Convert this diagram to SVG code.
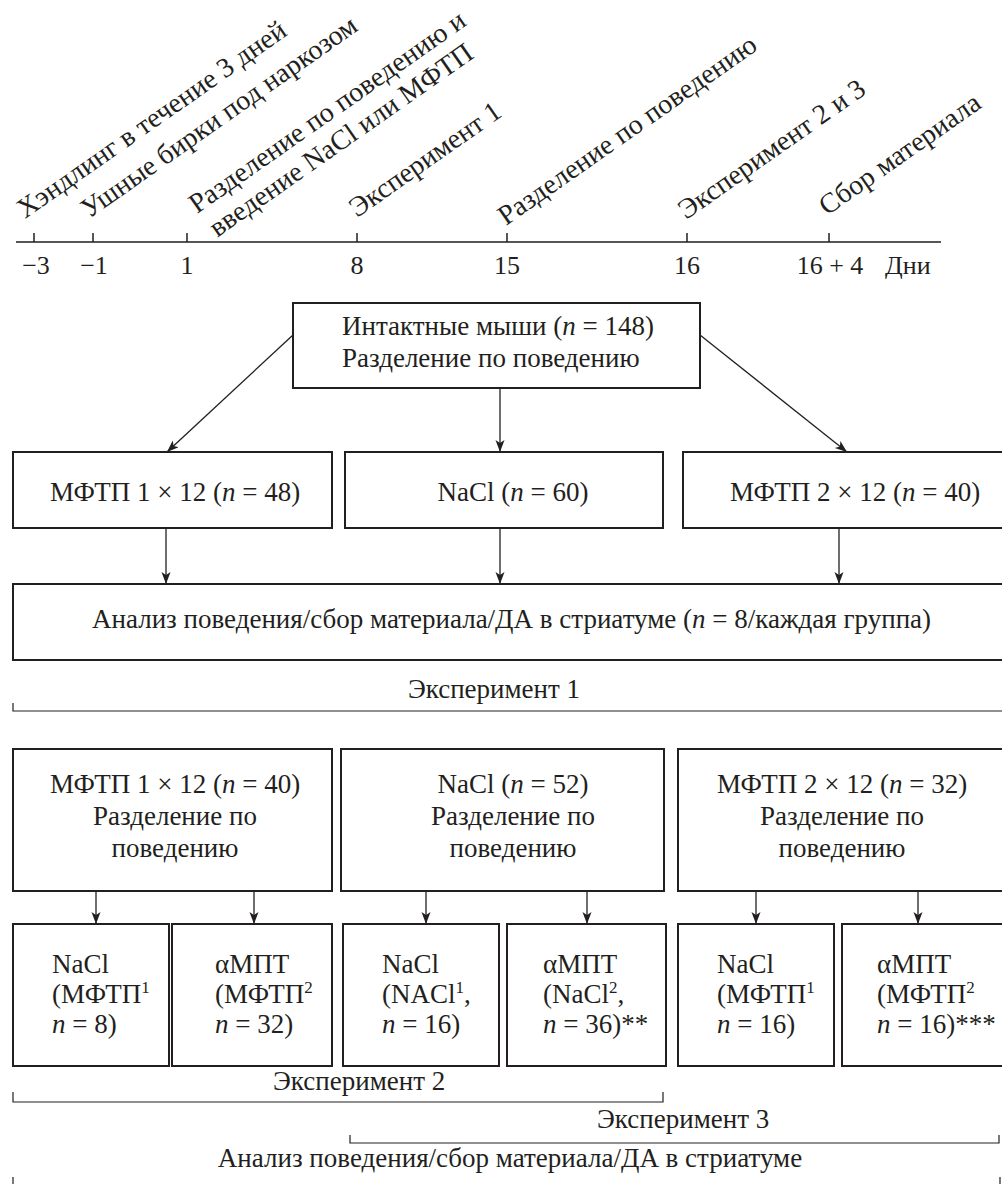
<svg xmlns="http://www.w3.org/2000/svg" width="1002" height="1184" viewBox="0 0 1002 1184">
<style>
text{font-family:"Liberation Serif","Times New Roman",serif;fill:#231f20;font-size:27px}
.t{font-size:26px}
.r{font-size:28px}
.box{fill:none;stroke:#231f20;stroke-width:2}
.ax{fill:none;stroke:#231f20;stroke-width:1.5}
.c{fill:none;stroke:#231f20;stroke-width:1.3}
.br{fill:none;stroke:#231f20;stroke-width:1.2}
.m{text-anchor:middle}
.i{font-style:italic}
</style>
<defs>
<marker id="ah" markerUnits="userSpaceOnUse" markerWidth="13" markerHeight="10" refX="12" refY="4.5" orient="auto">
<path d="M0,0 L12,4.5 L0,9 L3,4.5 z" fill="#231f20"/>
</marker>
</defs>
<rect width="1002" height="1184" fill="#ffffff"/>

<g id="timeline">
<path class="ax" d="M16,242 H941 M34,233 V242 M93,233 V242 M187,233 V242 M357,233 V242 M507,233 V242 M687,233 V242 M829,233 V242"/>
<text class="t m" x="36" y="274">−3</text>
<text class="t m" x="94" y="274">−1</text>
<text class="t m" x="187" y="274">1</text>
<text class="t m" x="357" y="274">8</text>
<text class="t m" x="507" y="274">15</text>
<text class="t m" x="687" y="274">16</text>
<text class="t m" x="830" y="274">16 + 4</text>
<text class="t" x="885" y="274">Дни</text>
<text class="r" transform="translate(25,219) rotate(-35)">Хэндлинг в течение 3 дней</text>
<text class="r" transform="translate(89,219) rotate(-35)">Ушные бирки под наркозом</text>
<g transform="translate(197,214) rotate(-35)">
<text class="r" x="0" y="0">Разделение по поведению и</text>
<text class="r" x="3" y="31">введение NaCl или МФТП</text>
</g>
<text class="r" transform="translate(357,218) rotate(-35)">Эксперимент 1</text>
<text class="r" transform="translate(506,226) rotate(-35)">Разделение по поведению</text>
<text class="r" transform="translate(686,220) rotate(-35)">Эксперимент 2 и 3</text>
<text class="r" transform="translate(827,216) rotate(-35)">Сбор материала</text>
</g>

<g id="connectors">
<path class="c" d="M293,335 L167,452" marker-end="url(#ah)"/>
<path class="c" d="M500,388 L500,452" marker-end="url(#ah)"/>
<path class="c" d="M700,335 L847,452" marker-end="url(#ah)"/>
<path class="c" d="M166,528 L166,584" marker-end="url(#ah)"/>
<path class="c" d="M500,528 L500,584" marker-end="url(#ah)"/>
<path class="c" d="M839,528 L839,584" marker-end="url(#ah)"/>
<path class="c" d="M96,891 L96,924" marker-end="url(#ah)"/>
<path class="c" d="M254,891 L254,924" marker-end="url(#ah)"/>
<path class="c" d="M426,891 L426,924" marker-end="url(#ah)"/>
<path class="c" d="M587,891 L587,924" marker-end="url(#ah)"/>
<path class="c" d="M756,891 L756,924" marker-end="url(#ah)"/>
<path class="c" d="M918,891 L918,924" marker-end="url(#ah)"/>
</g>

<g id="n-intact">
<rect class="box" x="293" y="303" width="407" height="85"/>
<text x="342" y="335">Интактные мыши (<tspan class="i">n</tspan> = 148)</text>
<text x="342" y="367">Разделение по поведению</text>
</g>

<g id="n-mftp1-48">
<rect class="box" x="13" y="452" width="319" height="76"/>
<text class="m" x="175" y="501">МФТП 1 × 12 (<tspan class="i">n</tspan> = 48)</text>
</g>
<g id="n-nacl-60">
<rect class="box" x="345" y="452" width="318" height="76"/>
<text class="m" x="513" y="501">NaCl (<tspan class="i">n</tspan> = 60)</text>
</g>
<g id="n-mftp2-40">
<rect class="box" x="683" y="452" width="340" height="76"/>
<text class="m" x="855" y="501">МФТП 2 × 12 (<tspan class="i">n</tspan> = 40)</text>
</g>

<g id="n-analysis1">
<rect class="box" x="13" y="584" width="1010" height="76"/>
<text x="92" y="628">Анализ поведения/сбор материала/ДА в стриатуме (<tspan class="i">n</tspan> = 8/каждая группа)</text>
</g>

<g id="exp1-bracket">
<path class="br" d="M13,703 V711 H1010"/>
<text class="m" x="494" y="698">Эксперимент 1</text>
</g>

<g id="n-mftp1-40">
<rect class="box" x="13" y="749" width="319" height="142"/>
<text class="m" x="175" y="793">МФТП 1 × 12 (<tspan class="i">n</tspan> = 40)</text>
<text class="m" x="175" y="825">Разделение по</text>
<text class="m" x="175" y="857">поведению</text>
</g>
<g id="n-nacl-52">
<rect class="box" x="341" y="749" width="323" height="142"/>
<text class="m" x="513" y="793">NaCl (<tspan class="i">n</tspan> = 52)</text>
<text class="m" x="513" y="825">Разделение по</text>
<text class="m" x="513" y="857">поведению</text>
</g>
<g id="n-mftp2-32">
<rect class="box" x="678" y="749" width="340" height="142"/>
<text class="m" x="842" y="793">МФТП 2 × 12 (<tspan class="i">n</tspan> = 32)</text>
<text class="m" x="842" y="825">Разделение по</text>
<text class="m" x="842" y="857">поведению</text>
</g>

<g id="n-g1">
<rect class="box" x="13" y="924" width="156" height="142"/>
<text x="52" y="973">NaCl</text>
<text x="52" y="1003">(МФТП<tspan font-size="17" dy="-10">1</tspan></text>
<text x="52" y="1033"><tspan class="i">n</tspan> = 8)</text>
</g>
<g id="n-g2">
<rect class="box" x="172" y="924" width="160" height="142"/>
<text x="215" y="973">αМПТ</text>
<text x="215" y="1003">(МФТП<tspan font-size="17" dy="-10">2</tspan></text>
<text x="215" y="1033"><tspan class="i">n</tspan> = 32)</text>
</g>
<g id="n-g3">
<rect class="box" x="343" y="924" width="156" height="142"/>
<text x="382" y="973">NaCl</text>
<text x="382" y="1003">(NACl<tspan font-size="17" dy="-10">1</tspan><tspan dy="10">,</tspan></text>
<text x="382" y="1033"><tspan class="i">n</tspan> = 16)</text>
</g>
<g id="n-g4">
<rect class="box" x="507" y="924" width="159" height="142"/>
<text x="543" y="973">αМПТ</text>
<text x="543" y="1003">(NaCl<tspan font-size="17" dy="-10">2</tspan><tspan dy="10">,</tspan></text>
<text x="543" y="1033"><tspan class="i">n</tspan> = 36)**</text>
</g>
<g id="n-g5">
<rect class="box" x="678" y="924" width="156" height="142"/>
<text x="717" y="973">NaCl</text>
<text x="717" y="1003">(МФТП<tspan font-size="17" dy="-10">1</tspan></text>
<text x="717" y="1033"><tspan class="i">n</tspan> = 16)</text>
</g>
<g id="n-g6">
<rect class="box" x="842" y="924" width="170" height="142"/>
<text x="877" y="973">αМПТ</text>
<text x="877" y="1003">(МФТП<tspan font-size="17" dy="-10">2</tspan></text>
<text x="877" y="1033"><tspan class="i">n</tspan> = 16)***</text>
</g>

<g id="exp2-bracket">
<path class="br" d="M13,1092 V1102 H663 V1092"/>
<text x="273" y="1090">Эксперимент 2</text>
</g>
<g id="exp3-bracket">
<path class="br" d="M350,1135 V1143 H999 V1135"/>
<text x="597" y="1128">Эксперимент 3</text>
</g>
<g id="analysis-bracket">
<path class="br" d="M13,1177 V1190 H1000 V1177"/>
<text class="m" x="510" y="1167">Анализ поведения/сбор материала/ДА в стриатуме</text>
</g>
</svg>
